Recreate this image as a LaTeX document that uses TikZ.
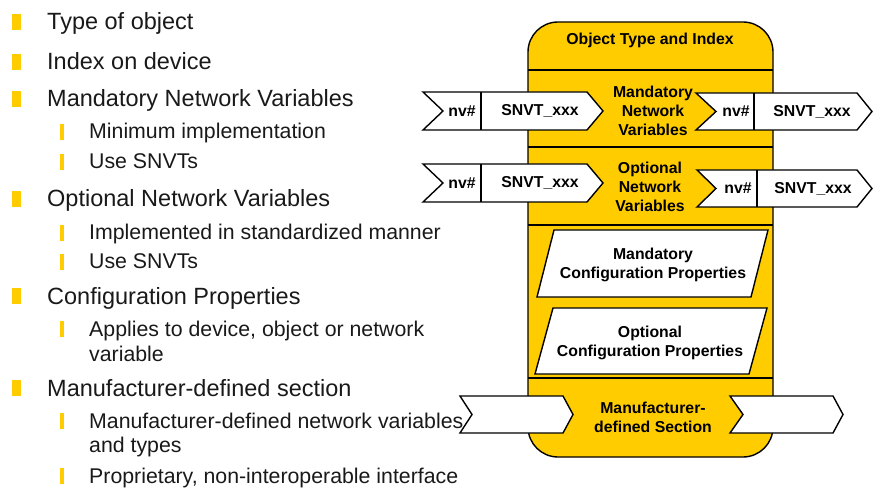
\documentclass[tikz,border=0pt]{standalone}
\usepackage{fontspec}
\setmainfont{Liberation Sans}
\definecolor{jaune}{HTML}{FFCC00}

\begin{document}
\begin{tikzpicture}[x=1pt,y=-1pt]
\tikzstyle{trait}=[draw=black,line width=1.4pt]
\tikzset{fleche/.style={trait,fill=white},
titre/.style={font=\bfseries\fontsize{15.8}{19}\selectfont,align=center,inner sep=0pt},
niveauA/.style={anchor=base west,inner sep=0pt,text=black!90,font=\fontsize{23.5}{28}\selectfont},
niveauB/.style={anchor=base west,inner sep=0pt,text=black!90,font=\fontsize{21.3}{25}\selectfont}}
\useasboundingbox (0,0) rectangle (873,489);

% liste a gauche
\foreach \y in {30,70,107,207,304,396} \fill[jaune] (12,\y) rectangle ++(9,-16);
\foreach \y in {140,170,241,270,337,429,484} \fill[jaune] (59.5,\y) rectangle ++(4.5,-16);
\node[niveauA] (L1) at (47,30) {Type of object};
\node[niveauA] (L2) at (47,70) {Index on device};
\node[niveauA] (L3) at (47,107) {Mandatory Network Variables};
\node[niveauB] (L31) at (89,139) {Minimum implementation};
\node[niveauB] (L32) at (89,169) {Use SNVTs};
\node[niveauA] (L4) at (47,207) {Optional Network Variables};
\node[niveauB] (L41) at (89,240) {Implemented in standardized manner};
\node[niveauB] (L42) at (89,269) {Use SNVTs};
\node[niveauA] (L5) at (47,304) {Configuration Properties};
\node[niveauB] (L51) at (89,336) {Applies to device, object or network};
\node[niveauB] (L51b) at (89,361) {variable};
\node[niveauA] (L6) at (47,396) {Manufacturer-defined section};
\node[niveauB] (L61) at (89,428) {Manufacturer-defined network variables};
\node[niveauB] (L61b) at (89,452) {and types};
\node[niveauB] (L62) at (89,483) {Proprietary, non-interoperable interface};

% objet
\draw[trait,fill=jaune,rounded corners=30pt] (528,22) rectangle (773,457);
\foreach \y in {70,147,225,378} \draw[trait] (528,\y) -- (773,\y);
\node[titre] (T) at (650,40) {Object Type and Index};

% variables obligatoires
\node[titre] (M) at (653,111) {Mandatory\\Network\\Variables};
\draw[fleche] (423,92) -- (587,92) -- (603,111) -- (587,130) -- (423,130) -- (443,111) -- cycle;
\draw[trait] (481,92) -- (481,130);
\node[titre] (Mnv1) at (462,111) {nv\#};
\node[titre] (Ms1) at (540,111) {SNVT\_xxx};
\draw[fleche] (696,93) -- (857,93) -- (872,111.5) -- (857,130) -- (696,130) -- (716,111.5) -- cycle;
\draw[trait] (754,93) -- (754,130);
\node[titre] (Mnv2) at (736,111.5) {nv\#};
\node[titre] (Ms2) at (812,111.5) {SNVT\_xxx};

% variables optionnelles
\node[titre] (O) at (650,187) {Optional\\Network\\Variables};
\draw[fleche] (423,164) -- (587,164) -- (603,183) -- (587,202) -- (423,202) -- (443,183) -- cycle;
\draw[trait] (481,164) -- (481,202);
\node[titre] (Onv1) at (462,183) {nv\#};
\node[titre] (Os1) at (540,183) {SNVT\_xxx};
\draw[fleche] (697,170) -- (857,170) -- (872,188.5) -- (857,207) -- (697,207) -- (716,188.5) -- cycle;
\draw[trait] (757,170) -- (757,207);
\node[titre] (Onv2) at (738,188.5) {nv\#};
\node[titre] (Os2) at (813,188.5) {SNVT\_xxx};

% proprietes de configuration
\draw[fleche] (554,230) -- (768,230) -- (751,297) -- (537,297) -- cycle;
\node[titre] (MC) at (653,265) {Mandatory\\Configuration Properties};
\draw[fleche] (553,308) -- (767,308) -- (749,374) -- (535,374) -- cycle;
\node[titre] (OC) at (650,343) {Optional\\Configuration Properties};

% section du fabricant
\draw[fleche] (460,396) -- (563,396) -- (573,414.5) -- (563,433) -- (460,433) -- (472,414.5) -- cycle;
\draw[fleche] (730,396) -- (833,396) -- (843,414.5) -- (833,433) -- (730,433) -- (743,414.5) -- cycle;
\node[titre] (F) at (653,417) {Manufacturer-\\defined Section};

\end{tikzpicture}
\end{document}
